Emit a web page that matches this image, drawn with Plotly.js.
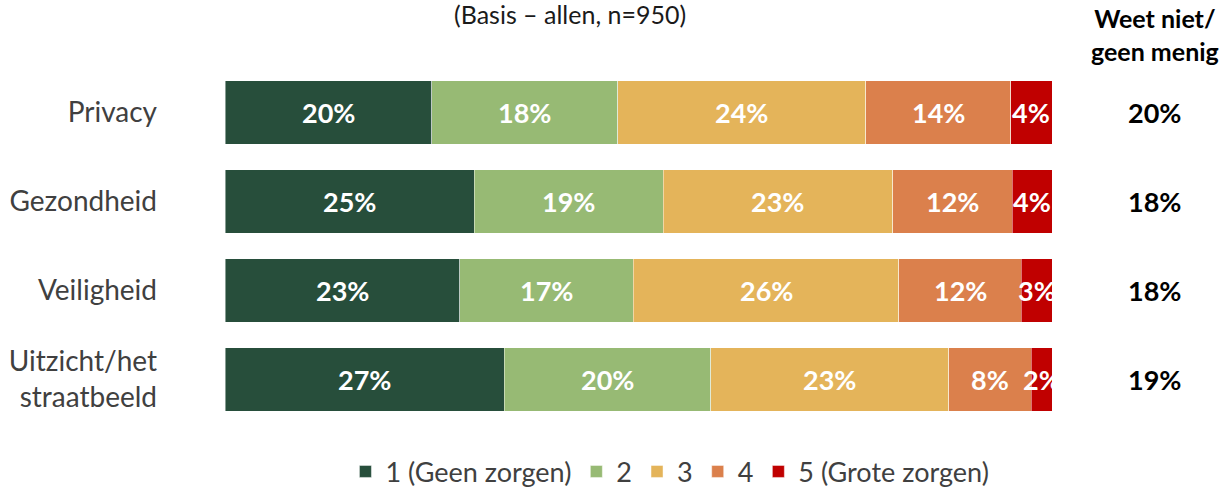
<!DOCTYPE html>
<html><head><meta charset="utf-8">
<script src="https://cdn.plot.ly/plotly-3.0.1.min.js"></script>
<style>html,body{margin:0;padding:0;background:#fff}#chart{width:1227px;height:488px}</style>
</head><body><div id="chart"></div>
<script>
const categories = ["Privacy", "Gezondheid", "Veiligheid", "Uitzicht/het<br>straatbeeld"];
const seriesNames = ["1 (Geen zorgen)", "2", "3", "4", "5 (Grote zorgen)"];
const s1 = [20, 25, 23, 27];
const s2 = [18, 19, 17, 20];
const s3 = [24, 23, 26, 23];
const s4 = [14, 12, 12, 8];
const s5 = [4, 4, 3, 2];
const weetNiet = [20, 18, 18, 19];
const colors = ["#274E3B", "#97BA74", "#E4B45A", "#DB804C", "#C00000"];

const series = [s1, s2, s3, s4, s5];
const FONT = "Lato, 'Noto Sans', sans-serif";

const traces = series.map((vals, i) => ({
  type: "bar", orientation: "h",
  y: categories, x: vals, name: seriesNames[i],
  marker: {color: colors[i], line: {color: "rgba(255,255,255,0.45)", width: 1}},
  hoverinfo: "skip"
}));

// segment labels, positioned from normalized cumulative data
const annotations = [];
categories.forEach((cat, c) => {
  const total = series.reduce((a, s) => a + s[c], 0);
  let cum = 0;
  series.forEach((s, i) => {
    const v = s[c];
    const center = (cum + v / 2) / total * 100;
    cum += v;
    annotations.push({x: center, y: cat, xref: "x", yref: "y", xanchor: "center", text: "<b>" + v + "%</b>",
      showarrow: false, font: {family: FONT, size: 27, color: "#ffffff"}});
  });
  annotations.push({x: 1.124, y: cat, xref: "paper", yref: "y", xanchor: "center", text: "<b>" + weetNiet[c] + "%</b>",
    showarrow: false, font: {family: FONT, size: 27, color: "#000000"}});
});
annotations.push({x: 1.124, y: 1.094, xref: "paper", yref: "paper", xanchor: "center", yanchor: "middle",
  text: "<b>Weet niet/<br>geen menig</b>", showarrow: false,
  font: {family: FONT, size: 25, color: "#000000"}});
annotations.push({x: (570 - 225) / 827, y: 1.153, xref: "paper", yref: "paper", yanchor: "middle", xanchor: "center",
  text: "(Basis – allen, n=950)", showarrow: false,
  font: {family: FONT, size: 25, color: "#1a1a1a"}});

const layout = {
  width: 1227, height: 488,
  margin: {l: 225, r: 175, t: 68, b: 64},
  barmode: "stack", barnorm: "percent", bargap: 0.29,
  paper_bgcolor: "#ffffff", plot_bgcolor: "#ffffff",
  xaxis: {range: [0, 100], visible: false, fixedrange: true},
  yaxis: {autorange: "reversed", showgrid: false, zeroline: false, showline: false,
    ticks: "", ticklabelstandoff: 67,
    tickfont: {family: FONT, size: 28, color: "#404040"}},
  showlegend: true,
  legend: {orientation: "h", x: 0.538, xanchor: "center", yref: "container", y: 0.033, yanchor: "middle",
    traceorder: "normal", font: {family: FONT, size: 27, color: "#404040"}},
  annotations: annotations
};
Plotly.newPlot("chart", traces, layout, {displayModeBar: false, staticPlot: true});
</script></body></html>
